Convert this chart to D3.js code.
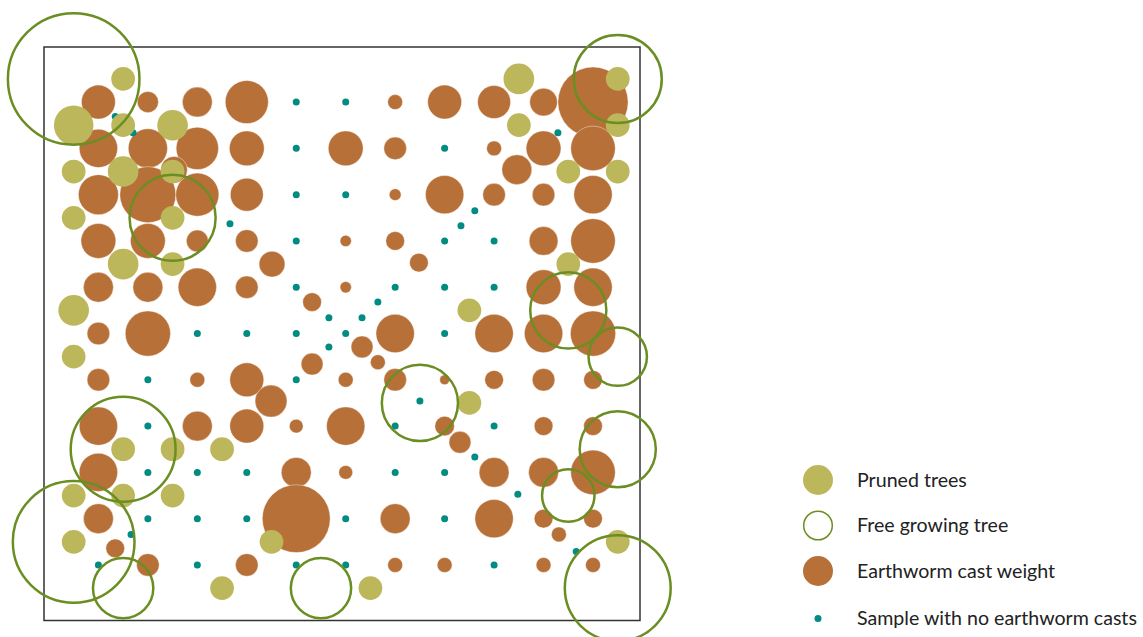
<!DOCTYPE html>
<html>
<head>
  <meta charset="utf-8">
  <title>Earthworm casts and trees</title>
  <script src="https://d3js.org/d3.v7.min.js"></script>
  <style>
    body {
      margin: 0;
      background: #ffffff;
    }
    .legend text {
      font-family: Lato, "Open Sans", sans-serif;
      font-size: 19.6px;
      fill: #222222;
    }
  </style>
</head>
<body>
  <div id="my_dataviz"></div>

  <script>
    // cast weight on the regular sampling grid (rows top to bottom, 0 = no casts)
    var castWeight = [
      [18, 7, 14, 29, 0, 0, 3.5, 18, 17, 12, 77],
      [23, 24, 28, 19, 0, 19, 8, 0, 3.5, 19, 31],
      [25, 49, 29, 17, 0, 0, 2.2, 23, 8, 8, 23],
      [19, 19, 7.5, 8, 0, 2, 5.5, 0, 0, 13, 31],
      [14, 14, 23, 8, 0, 2, 0, 0, 0, 19, 23],
      [8, 32, 0, 0, 0, 0, 23, 0, 23, 23, 32],
      [8, 0, 3.5, 18, 0, 3.5, 8, 1.5, 5.5, 8, 5.5],
      [23, 0, 14, 18, 3, 23, 0, 6, 0, 5.5, 5.5],
      [23, 0, 0, 0, 14, 3, 0, 0, 14, 14, 31],
      [14, 0, 0, 0, 72, 0, 14, 0, 23, 5.5, 5.5],
      [0, 8, 0, 8, 0, 0, 3.5, 3.5, 0, 3.5, 3.5]
    ];

    // extra samples along the two diagonals
    var diagX = [0.34, 0.70, 1.53, 2.66, 3.51, 4.32, 4.66, 9.29, 8.46, 7.61, 7.33, 6.48, 5.65, 5.33,
                 4.66, 4.32, 3.49, 5.33, 5.65, 6.50, 7.31, 7.61, 8.48, 9.31, 9.66, 0.66, 0.34];
    var diagY = [0.31, 0.66, 1.46, 2.63, 3.50, 4.32, 4.66, 0.66, 1.46, 2.35, 2.67, 3.47, 4.32, 4.66,
                 5.29, 5.66, 6.46, 5.29, 5.62, 6.46, 7.35, 7.67, 8.47, 9.34, 9.71, 9.34, 9.64];
    var diagW = [0, 0, 11, 0, 10.5, 5.5, 0, 0, 14, 0, 0, 5.5, 0, 0,
                 0, 7.5, 16, 7.5, 3.5, 0, 7.5, 0, 0, 3.5, 0, 0, 5.5];

    // pruned trees (crown radius in grid units)
    var prunedX = [0.5, -0.5, 0.5, 1.5, -0.5, 0.5, 1.5, -0.5, 1.5, 0.5, 1.5, -0.5, -0.5,
                   8.5, 10.5, 8.5, 10.5, 9.5, 10.5, 9.5, 7.5, 7.5,
                   0.5, 1.5, 2.5, -0.5, 0.5, 1.5, -0.5, 2.5, 3.5, 5.5, 10.5];
    var prunedY = [-0.5, 0.5, 0.5, 0.5, 1.5, 1.5, 1.5, 2.5, 2.5, 3.5, 3.5, 4.5, 5.5,
                   -0.5, -0.5, 0.5, 0.5, 1.5, 1.5, 3.5, 4.5, 6.5,
                   7.5, 7.5, 7.5, 8.5, 8.5, 8.5, 9.5, 10.5, 9.5, 10.5, 9.5];
    var prunedCrown = [.24, .40, .24, .31, .24, .31, .24, .24, .24, .31, .24, .31, .24,
                       .31, .24, .24, .24, .24, .24, .24, .24, .24,
                       .24, .24, .24, .24, .24, .24, .24, .24, .24, .24, .24];

    // free growing trees
    var freeX = [-0.5, 10.5, 1.5, 9.5, 10.5, 6.5, 0.5, 10.5, -0.5, 9.5, 0.5, 4.5, 10.5];
    var freeY = [-0.5, -0.5, 2.5, 4.5, 5.5, 6.5, 7.5, 7.5, 9.5, 8.5, 10.5, 10.5, 10.5];
    var freeCrown = [1.33, 0.89, 0.87, 0.77, 0.59, 0.77, 1.06, 0.77, 1.23, 0.53, 0.61, 0.61, 1.07];

    var legendLabels = ["Pruned trees", "Free growing tree", "Earthworm cast weight", "Sample with no earthworm casts"];

    var colPruned = "#bdb75c",
        colFree = "#6b8e23",
        colCast = "#b77038",
        colNone = "#008c82";

    var width = 1143, height = 637;

    var svg = d3.select("#my_dataviz")
      .append("svg")
        .attr("width", width)
        .attr("height", height);

    // scales
    var x = d3.scaleLinear().domain([-1.1, 10.95]).range([44, 640]);
    var y = d3.scaleLinear().domain([-1.19, 11.2]).range([47, 620.5]);
    var rCast = d3.scaleSqrt().domain([0, 100]).range([0, 40]);
    var crown = d3.scaleLinear().domain([0, 1]).range([0, x(1) - x(0)]);

    // build sample list from grid + diagonals
    var samples = [];
    castWeight.forEach(function(row, j) {
      row.forEach(function(w, i) { samples.push({x: i, y: j, w: w}); });
    });
    diagX.forEach(function(v, k) { samples.push({x: v, y: diagY[k], w: diagW[k]}); });

    var pruned = prunedX.map(function(v, k) { return {x: v, y: prunedY[k], r: prunedCrown[k]}; });
    var free = freeX.map(function(v, k) { return {x: v, y: freeY[k], r: freeCrown[k]}; });

    // frame
    svg.append("rect")
      .attr("x", x.range()[0])
      .attr("y", y.range()[0])
      .attr("width", x.range()[1] - x.range()[0])
      .attr("height", y.range()[1] - y.range()[0])
      .style("fill", "none")
      .style("stroke", "#333333")
      .style("stroke-width", 1.5);

    // earthworm casts
    svg.append("g")
      .selectAll("circle")
      .data(samples.filter(function(d) { return d.w > 0; }))
      .enter()
      .append("circle")
        .attr("cx", function(d) { return x(d.x); })
        .attr("cy", function(d) { return y(d.y); })
        .attr("r", function(d) { return rCast(d.w); })
        .style("fill", colCast)
        .style("stroke", "#ffffff")
        .style("stroke-opacity", 0.5)
        .style("stroke-width", 0.8);

    // samples without casts
    svg.append("g")
      .selectAll("circle")
      .data(samples.filter(function(d) { return d.w === 0; }))
      .enter()
      .append("circle")
        .attr("cx", function(d) { return x(d.x); })
        .attr("cy", function(d) { return y(d.y); })
        .attr("r", 3.5)
        .style("fill", colNone);

    // pruned trees
    svg.append("g")
      .selectAll("circle")
      .data(pruned)
      .enter()
      .append("circle")
        .attr("cx", function(d) { return x(d.x); })
        .attr("cy", function(d) { return y(d.y); })
        .attr("r", function(d) { return crown(d.r); })
        .style("fill", colPruned);

    // free growing trees
    svg.append("g")
      .selectAll("circle")
      .data(free)
      .enter()
      .append("circle")
        .attr("cx", function(d) { return x(d.x); })
        .attr("cy", function(d) { return y(d.y); })
        .attr("r", function(d) { return crown(d.r); })
        .style("fill", "none")
        .style("stroke", colFree)
        .style("stroke-width", 2.5);

    // legend
    var legend = svg.append("g")
      .attr("class", "legend")
      .attr("transform", "translate(818,480)");

    var items = legend.selectAll("g")
      .data(legendLabels)
      .enter()
      .append("g")
        .attr("transform", function(d, i) { return "translate(0," + (i * 45.5) + ")"; });

    items.append("circle")
      .attr("r", function(d, i) { return i === 3 ? 3.5 : (i === 1 ? 14.3 : 15); })
      .attr("cy", function(d, i) { return i === 3 ? 2 : 0; })
      .style("fill", function(d, i) { return [colPruned, "#ffffff", colCast, colNone][i]; })
      .style("stroke", function(d, i) { return i === 1 ? colFree : "none"; })
      .style("stroke-width", 1.5);

    items.append("text")
      .attr("x", 39)
      .attr("y", function(d, i) { return i === 3 ? 2 : 0; })
      .attr("dy", "0.35em")
      .text(function(d) { return d; });
  </script>
</body>
</html>
